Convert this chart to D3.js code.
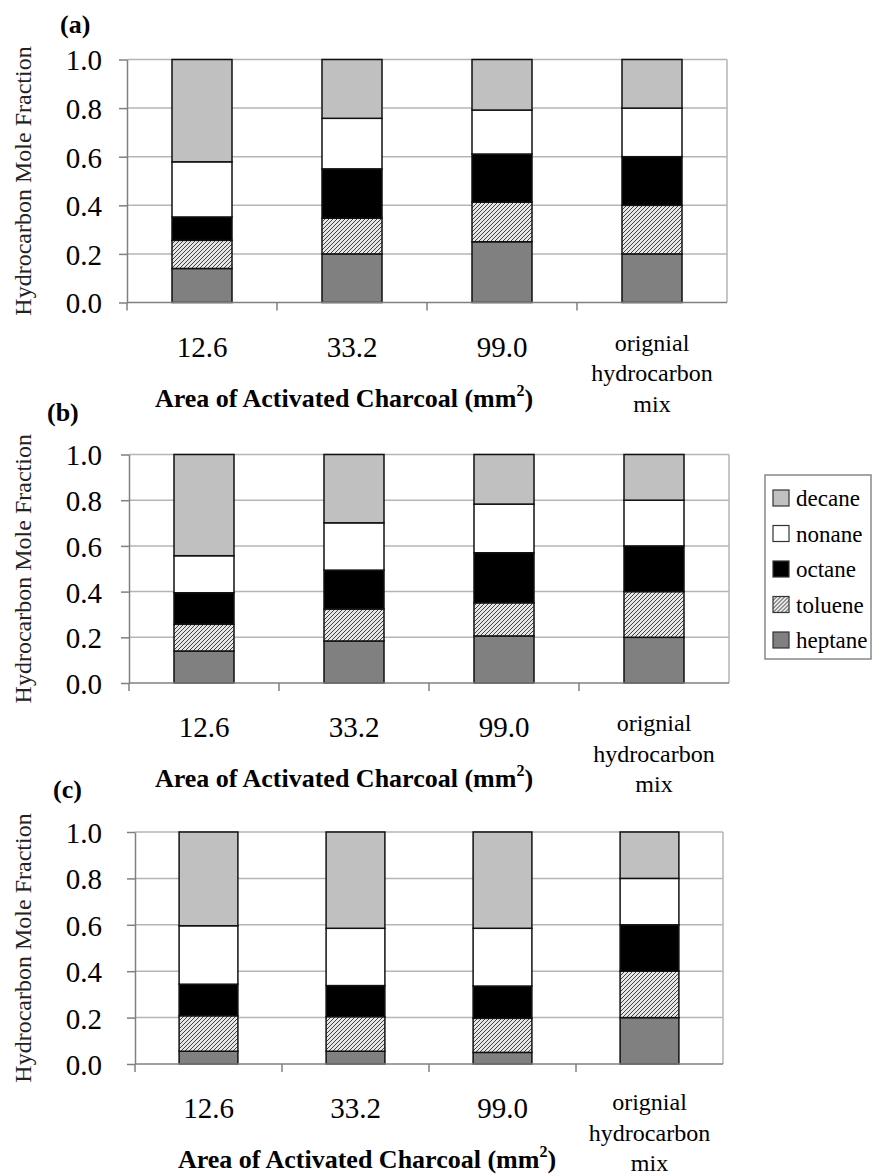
<!DOCTYPE html>
<meta charset="utf-8">
<style>

body {
  margin: 0;
  background: #fff;
}

svg {
  font-family: "Liberation Serif", "Times New Roman", serif;
}

svg text {
  font-family: "Liberation Serif", "Times New Roman", serif !important;
  fill: #000;
}

.grid line {
  stroke: #b5b5b5;
  stroke-width: 1.5px;
}

.axis path,
.axis line {
  stroke: #808080;
  stroke-width: 1.5px;
}

.bar {
  stroke: #111;
  stroke-width: 1.5px;
}

</style>

<body>

<script src="https://cdn.jsdelivr.net/npm/d3@7"></script>
<script>

var categories = ["12.6", "33.2", "99.0", "orignial hydrocarbon mix"];
var species = ["heptane", "toluene", "octane", "nonane", "decane"];
var legendOrder = ["decane", "nonane", "octane", "toluene", "heptane"];
var yTicks = [0, 0.2, 0.4, 0.6, 0.8, 1.0];

// panel (a)
var heptaneA = [0.14, 0.20, 0.25, 0.2];
var tolueneA = [0.116, 0.147, 0.163, 0.2];
var octaneA  = [0.096, 0.203, 0.198, 0.2];
var nonaneA  = [0.227, 0.208, 0.181, 0.2];
var decaneA  = [0.421, 0.242, 0.208, 0.2];

// panel (b)
var heptaneB = [0.14, 0.184, 0.206, 0.2];
var tolueneB = [0.117, 0.14, 0.145, 0.2];
var octaneB  = [0.138, 0.17, 0.219, 0.2];
var nonaneB  = [0.162, 0.207, 0.213, 0.2];
var decaneB  = [0.443, 0.299, 0.217, 0.2];

// panel (c)
var heptaneC = [0.055, 0.055, 0.05, 0.2];
var tolueneC = [0.153, 0.149, 0.147, 0.2];
var octaneC  = [0.136, 0.134, 0.139, 0.2];
var nonaneC  = [0.252, 0.247, 0.249, 0.2];
var decaneC  = [0.404, 0.415, 0.415, 0.2];

var panels = [
  {label: "(a)", labelX: 60, labelY: 33, left: 127, right: 727, top: 59.5, bottom: 302.5, titleX: 344, catDy: 48,
   values: {heptane: heptaneA, toluene: tolueneA, octane: octaneA, nonane: nonaneA, decane: decaneA}},
  {label: "(b)", labelX: 47, labelY: 421, left: 129, right: 729, top: 454.5, bottom: 683, titleX: 344, catDy: 48,
   values: {heptane: heptaneB, toluene: tolueneB, octane: octaneB, nonane: nonaneB, decane: decaneB}},
  {label: "(c)", labelX: 53, labelY: 798, left: 135, right: 723, top: 832, bottom: 1064, titleX: 367, catDy: 46,
   values: {heptane: heptaneC, toluene: tolueneC, octane: octaneC, nonane: nonaneC, decane: decaneC}}
];

var fills = {decane: "#c0c0c0", nonane: "#ffffff", octane: "#000000", toluene: "url(#hatch)", heptane: "#808080"};
var serif = "'Liberation Serif', 'Times New Roman', serif";

var svg = d3.select("body").append("svg")
    .attr("width", 873)
    .attr("height", 1176);

var pattern = svg.append("defs").append("pattern")
    .attr("id", "hatch")
    .attr("patternUnits", "userSpaceOnUse")
    .attr("width", 4)
    .attr("height", 4);
pattern.append("rect").attr("width", 4).attr("height", 4).attr("fill", "#e6e6e6");
pattern.append("path")
    .attr("d", "M-1,1 l2,-2 M0,4 l4,-4 M3,5 l2,-2")
    .attr("stroke", "#404040")
    .attr("stroke-width", 1);

var stack = d3.stack().keys(species);

panels.forEach(function(p) {
  var rows = categories.map(function(c, i) {
    var r = {category: c};
    species.forEach(function(s) { r[s] = p.values[s][i]; });
    return r;
  });

  var x = d3.scaleBand()
      .domain(categories)
      .range([p.left, p.right])
      .paddingInner(0.6)
      .paddingOuter(0.3);

  var y = d3.scaleLinear()
      .domain([0, 1])
      .range([p.bottom, p.top]);

  var g = svg.append("g");

  // gridlines
  g.append("g").attr("class", "grid")
    .selectAll("line")
    .data(yTicks.slice(1))
    .enter().append("line")
      .attr("x1", p.left)
      .attr("x2", p.right)
      .attr("y1", function(d) { return y(d); })
      .attr("y2", function(d) { return y(d); });

  // right border of plot area
  g.append("line")
      .attr("x1", p.right).attr("x2", p.right)
      .attr("y1", p.top).attr("y2", p.bottom)
      .attr("stroke", "#b5b5b5")
      .attr("stroke-width", 1.5);

  // bars
  g.selectAll(".series")
    .data(stack(rows))
    .enter().append("g")
      .attr("class", "series")
      .attr("fill", function(d) { return fills[d.key]; })
    .selectAll("rect")
    .data(function(d) { return d; })
    .enter().append("rect")
      .attr("class", "bar")
      .attr("x", function(d) { return x(d.data.category); })
      .attr("width", x.bandwidth())
      .attr("y", function(d) { return y(d[1]); })
      .attr("height", function(d) { return y(d[0]) - y(d[1]); });

  // y axis
  var yAxis = g.append("g").attr("class", "axis")
      .attr("transform", "translate(" + p.left + ",0)")
      .call(d3.axisLeft(y).tickValues(yTicks).tickFormat(d3.format(".1f")).tickSize(8).tickSizeOuter(0));
  yAxis.attr("font-family", serif);
  yAxis.selectAll("text")
      .attr("x", -(p.left - 102))
      .attr("dy", "0.36em")
      .style("font-family", serif)
      .style("font-size", "29px");

  // x axis line + between-category ticks
  var xa = g.append("g").attr("class", "axis");
  xa.append("line")
      .attr("x1", p.left).attr("x2", p.right)
      .attr("y1", p.bottom).attr("y2", p.bottom);
  xa.selectAll(".xtick")
    .data(d3.range(categories.length))
    .enter().append("line")
      .attr("class", "xtick")
      .attr("x1", function(i) { return p.left + x.step() * i; })
      .attr("x2", function(i) { return p.left + x.step() * i; })
      .attr("y1", p.bottom)
      .attr("y2", p.bottom + 8);

  // category labels
  categories.forEach(function(c) {
    var cx = x(c) + x.bandwidth() / 2;
    var words = c.split(" ");
    if (words.length === 1) {
      g.append("text")
          .attr("x", cx)
          .attr("y", p.bottom + 54)
          .attr("text-anchor", "middle")
          .style("font-family", serif)
          .style("font-size", "29px")
          .text(c);
    } else {
      words.forEach(function(w, k) {
        g.append("text")
            .attr("x", cx)
            .attr("y", p.bottom + p.catDy + k * 30.5)
            .attr("text-anchor", "middle")
            .style("font-family", serif)
            .style("font-size", "24px")
            .text(w);
      });
    }
  });

  // x axis title
  var t = g.append("text")
      .attr("x", p.titleX)
      .attr("y", p.bottom + 104)
      .attr("text-anchor", "middle")
      .style("font-family", serif)
      .style("font-size", "26px")
      .style("font-weight", "bold");
  t.append("tspan").text("Area of Activated Charcoal (mm");
  t.append("tspan").attr("dy", -11).style("font-size", "16px").text("2");
  t.append("tspan").attr("dy", 11).text(")");

  // y axis title
  g.append("text")
      .attr("transform", "translate(31," + ((p.top + p.bottom) / 2) + ") rotate(-90)")
      .attr("text-anchor", "middle")
      .style("font-family", serif)
      .style("font-size", "24px")
      .style("fill", "#222")
      .text("Hydrocarbon Mole Fraction");

  // panel label
  g.append("text")
      .attr("x", p.labelX)
      .attr("y", p.labelY)
      .style("font-family", serif)
      .style("font-size", "26px")
      .style("font-weight", "bold")
      .text(p.label);
});

// legend
var legend = svg.append("g").attr("transform", "translate(765,475)");
legend.append("rect")
    .attr("width", 106)
    .attr("height", 184)
    .attr("fill", "#fff")
    .attr("stroke", "#888")
    .attr("stroke-width", 1.5);

var item = legend.selectAll(".item")
  .data(legendOrder)
  .enter().append("g")
    .attr("class", "item")
    .attr("transform", function(d, i) { return "translate(8," + (15 + i * 35.5) + ")"; });

item.append("rect")
    .attr("width", 16)
    .attr("height", 16)
    .attr("fill", function(d) { return fills[d]; })
    .attr("stroke", "#333")
    .attr("stroke-width", 1.2);

item.append("text")
    .attr("x", 23)
    .attr("y", 8)
    .attr("dy", "0.35em")
    .style("font-family", serif)
    .style("font-size", "23px")
    .text(function(d) { return d; });

</script>
</body>
